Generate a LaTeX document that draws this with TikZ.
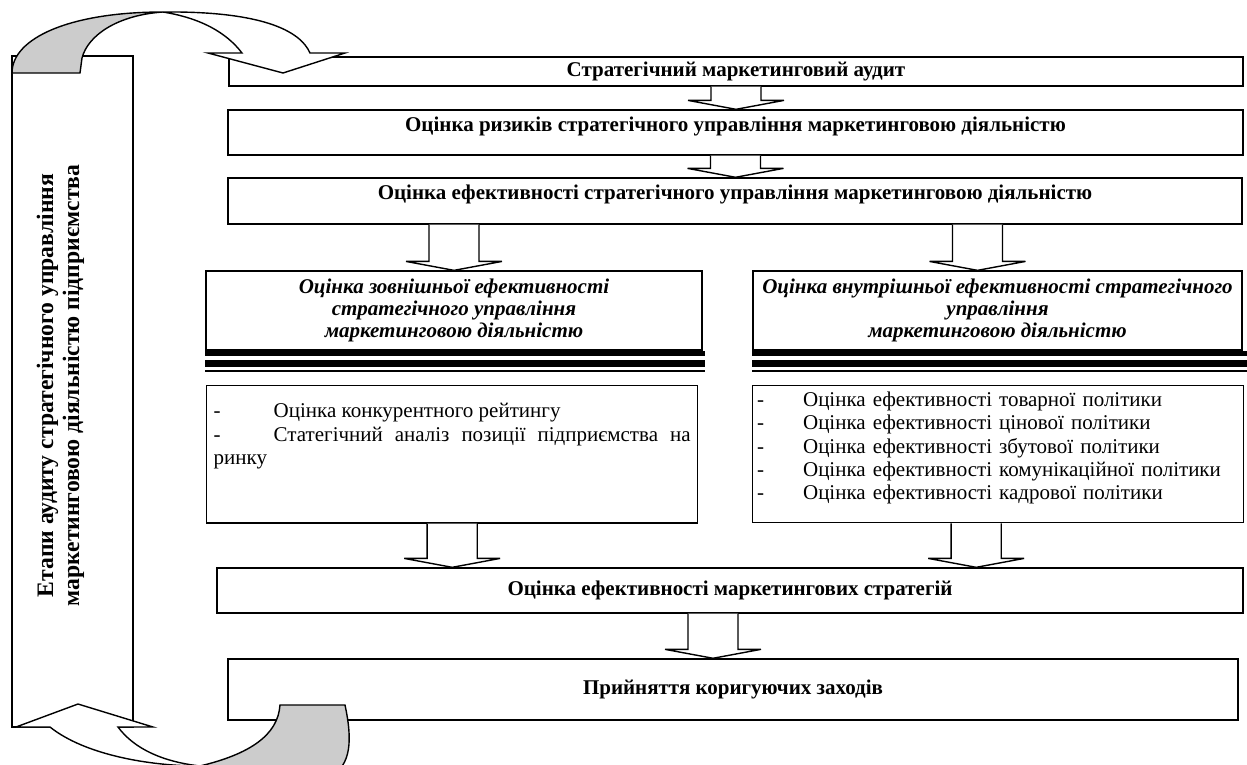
\documentclass[tikz,border=0pt]{standalone}
\usepackage{fontspec}
\setmainfont{Liberation Serif}
\usetikzlibrary{calc}

\begin{document}
\begin{tikzpicture}[
    x=0.5715pt, y=-0.5715pt,
    font=\fontsize{12}{13.2}\selectfont,
    box/.style={draw, fill=white, line width=0.8pt, inner sep=2pt, align=center},
    stage/.style={box, font=\fontsize{12}{13.2}\selectfont\bfseries},
    head/.style={box, font=\fontsize{12}{12.6}\selectfont\bfseries\itshape},
    listbox/.style={box, align=left, anchor=north west, inner ysep=4pt, minimum height=78.3pt},
    blockarrow/.style={draw, fill=white, line width=0.8pt, line join=miter,
        to path={let \p1=(\tikztostart), \p2=(\tikztotarget) in
          (\x1-14.3pt,\y1) -- (\x1-14.3pt,\y2+5.1pt) -- (\x1-27.4pt,\y2+5.1pt)
          -- (\x1,\y2) -- (\x1+27.4pt,\y2+5.1pt) -- (\x1+14.3pt,\y2+5.1pt)
          -- (\x1+14.3pt,\y1) \tikztonodes}},
    ribbon/.style={draw, fill=white, line width=0.8pt, line join=miter},
    ribbonback/.style={draw, fill=black!20, line width=0.8pt},
]
\useasboundingbox (0,0) rectangle (1247,764);

% left frame
\node[box, minimum width=69.2pt, minimum height=383.5pt] (etap) at (72.5,391.5) {};
\node[rotate=90, align=center, font=\fontsize{13.5}{14.9}\selectfont\bfseries] (etaptext)
  at ($(etap.center)+(-12,-6)$) {Етапи аудиту стратегічного управління\\маркетинговою діяльністю підприємства};

% main chain
\node[stage, minimum width=579.5pt, minimum height=16.6pt] (audit) at (736,71.5) {Стратегічний маркетинговий аудит};
\node[stage, minimum width=580.1pt, minimum height=25.7pt, text depth=9.5pt] (risk) at (735.5,132.5)
  {Оцінка ризиків стратегічного управління маркетинговою діяльністю};
\node[stage, minimum width=579.5pt, minimum height=26.3pt, text depth=9.5pt] (eff) at (735,201)
  {Оцінка ефективності стратегічного управління маркетинговою діяльністю};

\node[head, minimum width=283.5pt, minimum height=45.1pt] (zovn) at (454,310.5)
  {Оцінка зовнішньої ефективності\\стратегічного управління\\маркетинговою діяльністю};
\node[head, minimum width=279.5pt, minimum height=45.1pt] (vnut) at (997.5,310.5)
  {Оцінка внутрішньої ефективності стратегічного\\управління\\маркетинговою діяльністю};

\node[listbox, align=justify, inner xsep=4pt, text width=272.6pt, text height=14.4pt, text depth=56pt] (zlist) at (206,385)
  {\hyphenpenalty=10000 \makebox[34.3pt][l]{-}Оцінка конкурентного рейтингу\\[0.5pt]
   \makebox[34.3pt][l]{-}Статегічний аналіз позиції підприємства на ринку};
\node[listbox, inner xsep=2.5pt, text width=275.6pt, text height=8.1pt, text depth=62.2pt] (vlist) at (752,385)
  {\makebox[26.3pt][l]{-}Оцінка ефективності товарної політики\\
   \makebox[26.3pt][l]{-}Оцінка ефективності цінової політики\\
   \makebox[26.3pt][l]{-}Оцінка ефективності збутової політики\\
   \makebox[26.3pt][l]{-}Оцінка ефективності комунікаційної політики\\
   \makebox[26.3pt][l]{-}Оцінка ефективності кадрової політики};

\node[stage, minimum width=586.4pt, minimum height=25.7pt] (strat) at (730,590.5)
  {Оцінка ефективності маркетингових стратегій};
\node[stage, minimum width=577.2pt, minimum height=34.9pt] (prij) at (733,689.5)
  {Прийняття коригуючих заходів};

% double rules under the two headings
\foreach \n/\ext in {zovn/2, vnut/5} {
  \draw[line width=2.9pt] ($(\n.south west)+(0,2.5)$) -- ($(\n.south east)+(\ext,2.5)$);
  \draw[line width=4pt] ($(\n.south west)+(0,12.5)$) -- ($(\n.south east)+(\ext,12.5)$);
  \draw[line width=1.2pt] ($(\n.south west)+(0,20.5)$) -- ($(\n.south east)+(\ext,20.5)$);
}

% block arrows
\coordinate (vnutin) at ($(vnut.north)+(-20,0)$);
\coordinate (vlistout) at ($(vlist.south)+(-22,0)$);
\coordinate (prijin) at ($(prij.north)+(-20,0)$);
\draw[blockarrow] (audit.south) to (risk.north);
\draw[blockarrow] (risk.south) to (eff.north);
\draw[blockarrow] (eff.south -| zovn.north) to (zovn.north);
\draw[blockarrow] (eff.south -| vnutin) to (vnutin);
\draw[blockarrow] (zlist.south) to (zlist.south |- strat.north);
\draw[blockarrow] (vlistout) to (vlistout |- strat.north);
\draw[blockarrow] (strat.south -| prijin) to (prijin);

% curved arrow at the top
\filldraw[ribbonback] (12,73) .. controls (12,38) and (70,12) .. (163,12)
  .. controls (118,15) and (88,35) .. (82,58) -- (80,73) -- cycle;
\filldraw[ribbon] (163,12) .. controls (260,11) and (300,30) .. (310,53) -- (345,53) -- (283,73)
  -- (208,53) -- (242,53) .. controls (226,32) and (200,18) .. (163,12) -- cycle;

% curved arrow at the bottom
\begin{scope}
\clip (0,0) rectangle (1247,764);
\filldraw[ribbon] (16,727) -- (78,704) -- (153,727) -- (118,727)
  .. controls (135,750) and (165,762) .. (200,766)
  .. controls (150,766) and (85,755) .. (50,727) -- cycle;
\filldraw[ribbonback] (200,766) .. controls (250,754) and (278,735) .. (280,705) -- (345,705)
  .. controls (360,775) and (340,805) .. (200,766) -- cycle;
\end{scope}
\end{tikzpicture}
\end{document}
